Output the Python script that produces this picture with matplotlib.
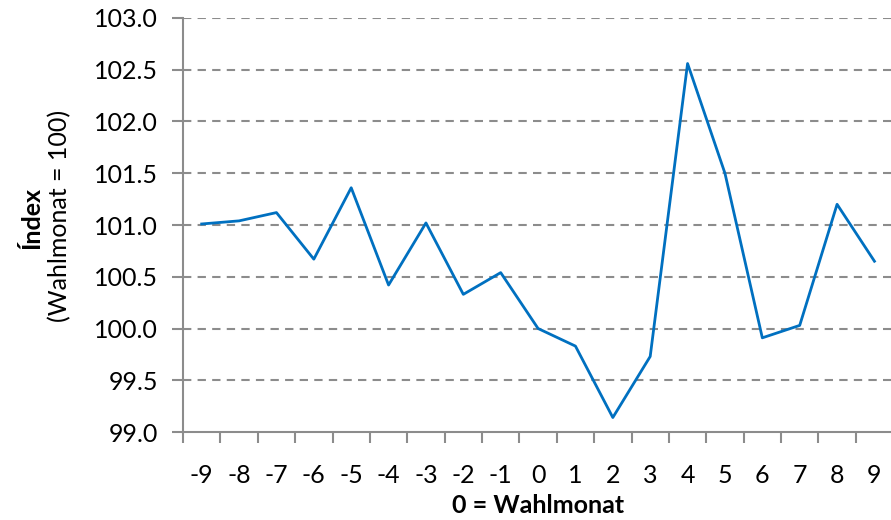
import matplotlib.pyplot as plt
import numpy as np

# Monate relativ zum Wahlmonat
months = list(range(-9, 10))
index_values = [101.01, 101.04, 101.12, 100.67, 101.36, 100.42, 101.02, 100.33, 100.54,
                100.00, 99.83, 99.14, 99.73, 102.56, 101.50, 99.91, 100.03, 101.20, 100.65]
y_ticks = [99.0, 99.5, 100.0, 100.5, 101.0, 101.5, 102.0, 102.5, 103.0]

plt.rcParams['font.family'] = ['Lato', 'DejaVu Sans']

fig = plt.figure(figsize=(8.91, 5.20), dpi=100)
ax = fig.add_axes([0.2054, 0.1692, 0.797, 0.7962])

ax.plot(months, index_values, color='#0070C0', linewidth=2, zorder=3)

ax.set_xlim(-9.5, 9.5)
ax.set_ylim(99, 103)
ax.set_yticks(y_ticks)
ax.set_yticklabels(['%.1f' % v for v in y_ticks])
ax.set_xticks(months)
ax.set_xticklabels([str(m) for m in months])
ax.set_xticks(np.arange(-9.5, 9.6, 1), minor=True)

for v in y_ticks[1:]:
    ax.axhline(v, color='#8c8c8c', linewidth=1.5, linestyle=(0, (4, 3)), zorder=1)

for side in ['top', 'right']:
    ax.spines[side].set_visible(False)
for side in ['left', 'bottom']:
    ax.spines[side].set_color('#8c8c8c')
    ax.spines[side].set_linewidth(1.5)

ax.tick_params(axis='y', length=8, width=1.5, color='#8c8c8c', labelsize=18, pad=10)
ax.tick_params(axis='x', which='major', length=0, labelsize=18, pad=23)
ax.tick_params(axis='x', which='minor', length=8, width=1.5, color='#8c8c8c')

ax.set_xlabel('0 = Wahlmonat', fontsize=18, fontweight='bold', labelpad=5)
fig.text(0.036, 0.58, 'Índex', rotation=90, fontsize=18, fontweight='bold',
         ha='center', va='center')
fig.text(0.067, 0.585, '(Wahlmonat = 100)', rotation=90, fontsize=18,
         ha='center', va='center')

fig.savefig('out.png', dpi=100)
